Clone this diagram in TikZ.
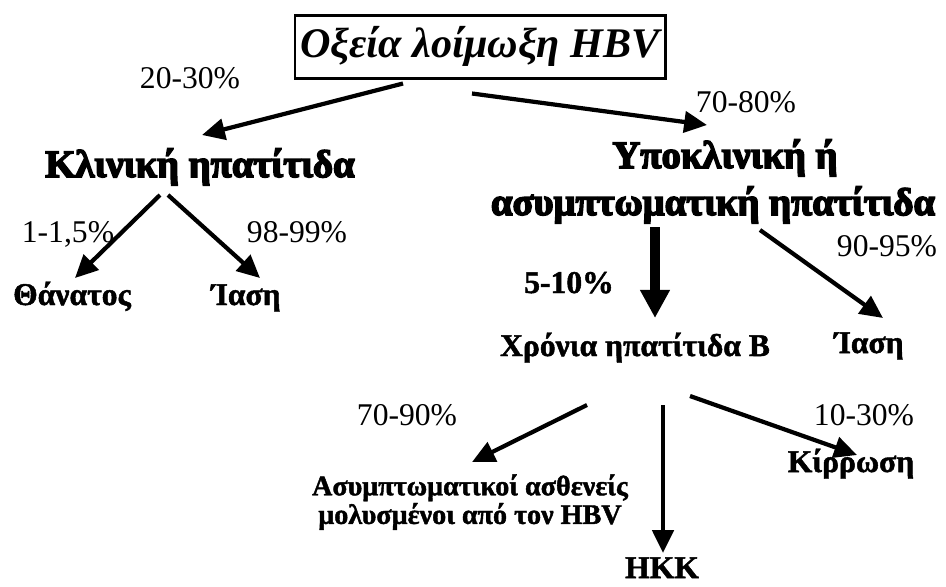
\documentclass[tikz,border=0pt]{standalone}
\usepackage{fontspec}
\setmainfont{Liberation Serif}
\newfontfamily\heavyfont[BoldFeatures={FakeBold=4}]{Liberation Serif}
\newfontfamily\firmfont[BoldFeatures={FakeBold=1.5}]{Liberation Serif}
\usetikzlibrary{arrows.meta,calc}
\tikzset{
  pct/.style={anchor=base,font=\fontsize{18}{20}\selectfont,inner sep=0pt},
  outcome/.style={anchor=base,font=\fontsize{18}{20}\selectfont\firmfont\bfseries,inner sep=0pt},
  stage/.style={anchor=base,font=\fontsize{22}{24}\selectfont\heavyfont\bfseries,inner sep=0pt},
  arr/.style={line width=2.4pt,-{Triangle[length=13pt,width=12pt]}},
  bigarr/.style={line width=6pt,-{Triangle[length=16pt,width=16pt]}},
}
\begin{document}
\begin{tikzpicture}[x=0.02cm,y=-0.02cm]
\useasboundingbox (0,0) rectangle (946,586);

% root box
\node[draw,line width=1.7pt,minimum width=370*0.02cm,minimum height=63*0.02cm,inner sep=0pt,
      font=\fontsize{24}{26}\selectfont\firmfont\bfseries\itshape] (root) at (480,46.5) {Οξεία λοίμωξη HBV};

% first split
\node[pct] (p2030) at (190,88) {20-30\%};
\node[pct] (p7080) at (746,112) {70-80\%};
\node[stage] (klin) at (200,177) {Κλινική ηπατίτιδα};
\node[stage] (ypo1) at (725,168) {Υποκλινική ή};
\node[stage] (ypo2) at (713,215) {ασυμπτωματική ηπατίτιδα};

% clinical hepatitis branch
\node[pct] (p115) at (68,242) {1-1,5\%};
\node[pct] (p9899) at (297,242) {98-99\%};
\node[outcome] (death) at (72,305) {Θάνατος};
\node[outcome] (cure1) at (246,305) {Ίαση};

% subclinical branch
\node[outcome] (p510) at (569,293) {5-10\%};
\node[pct] (p9095) at (887,256) {90-95\%};
\node[outcome] (cure2) at (869,353) {Ίαση};
\node[outcome] (chronic) at (635,356) {Χρόνια ηπατίτιδα Β};

% chronic hepatitis outcomes
\node[pct] (p7090) at (407,425) {70-90\%};
\node[pct] (p1030) at (864,425) {10-30\%};
\node[outcome] (cirr) at (851,472) {Κίρρωση};
\node[anchor=north,align=center,inner sep=0pt,font=\fontsize{16}{13}\selectfont\firmfont\bfseries] (carrier) at (470,474)
  {Ασυμπτωματικοί ασθενείς\\μολυσμένοι από τον HBV};
\node[outcome] (hcc) at (662,578) {HKK};

% connectors
\draw[arr] ($(root.south)+(-77,4)$) -- ($(klin.base)+(2,-42)$);
\draw[arr] ($(root.south)+(-8,14)$) -- ($(ypo1.base)+(-18,-43)$);
\draw[arr] ($(klin.base)+(-40,18)$) -- ($(death.base)+(3,-27)$);
\draw[arr] ($(klin.base)+(-32,18)$) -- ($(cure1.base)+(14,-27)$);
\draw[bigarr] ($(ypo2.base)+(-58,12)$) -- ($(chronic.base)+(20,-38)$);
\draw[arr] ($(ypo2.base)+(47,15)$) -- ($(cure2.base)+(14,-35)$);
\draw[arr] ($(chronic.base)+(-48,49)$) -- ($(carrier.north)+(2,-12)$);
\draw[arr] ($(chronic.base)+(28,49)$) -- ($(hcc.base)+(1,-25)$);
\draw[arr] ($(chronic.base)+(55,40)$) -- ($(cirr.base)+(6,-17)$);
\end{tikzpicture}
\end{document}
